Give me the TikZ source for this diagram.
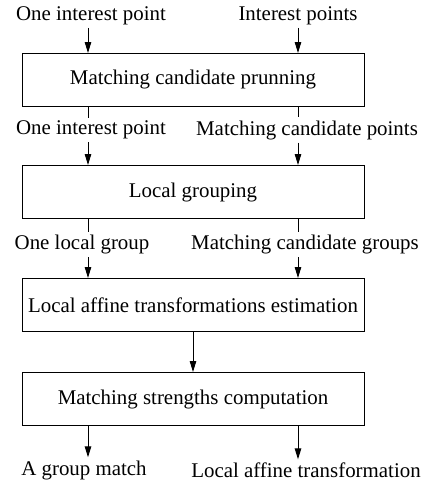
\documentclass[tikz,border=0pt]{standalone}
\usepackage{fontspec}
\setmainfont{Liberation Serif}
\usetikzlibrary{arrows.meta,positioning}

\begin{document}
\begin{tikzpicture}[x=1pt, y=-1pt, node distance=58pt,
    every node/.style={font=\fontsize{20.9}{25}\selectfont},
    stage/.style={draw, line width=1pt, minimum width=342pt, minimum height=53pt, inner sep=0pt},
    flow/.style={-{Triangle[length=11pt, width=6.5pt]}, line width=1pt},
    tag/.style={inner sep=3pt}]
    \useasboundingbox (0,0) rectangle (429,483);
    \coordinate (colL) at (88,0);
    \coordinate (colR) at (298,0);
    % processing stages
    \node[stage] (prune) at (193,80) {Matching candidate prunning};
    \node[stage, below=of prune] (group) {Local grouping};
    \node[stage, below=59pt of group] (affine) {Local affine transformations estimation};
    \node[stage, below=40pt of affine] (strength) {Matching strengths computation};
    % data passed between stages
    \node[tag] (inOne) at (91,15.5) {One interest point};
    \node[tag] (inAll) at (298,15.5) {Interest points};
    \node[tag] (candOne) at (91,130) {One interest point};
    \node[tag] (candAll) at (307,130) {Matching candidate points};
    \node[tag] (grpOne) at (82,244.5) {One local group};
    \node[tag] (grpAll) at (305,244.5) {Matching candidate groups};
    \node[tag] (outMatch) at (84,470) {A group match};
    \node[tag] (outAffine) at (306,470) {Local affine transformation};
    \draw[flow] (inOne.south -| colL) -- (prune.north -| colL);
    \draw[flow] (inAll.south -| colR) -- (prune.north -| colR);
    \draw[line width=1pt] (prune.south -| colL) -- (candOne.north -| colL);
    \draw[line width=1pt] (prune.south -| colR) -- (candAll.north -| colR);
    \draw[flow] (candOne.south -| colL) -- (group.north -| colL);
    \draw[flow] (candAll.south -| colR) -- (group.north -| colR);
    \draw[line width=1pt] (group.south -| colL) -- (grpOne.north -| colL);
    \draw[line width=1pt] (group.south -| colR) -- (grpAll.north -| colR);
    \draw[flow] (grpOne.south -| colL) -- (affine.north -| colL);
    \draw[flow] (grpAll.south -| colR) -- (affine.north -| colR);
    \draw[flow] (affine) -- (strength);
    \draw[flow] (strength.south -| colL) -- (outMatch.north -| colL);
    \draw[flow] (strength.south -| colR) -- (outAffine.north -| colR);
  \end{tikzpicture}
\end{document}
